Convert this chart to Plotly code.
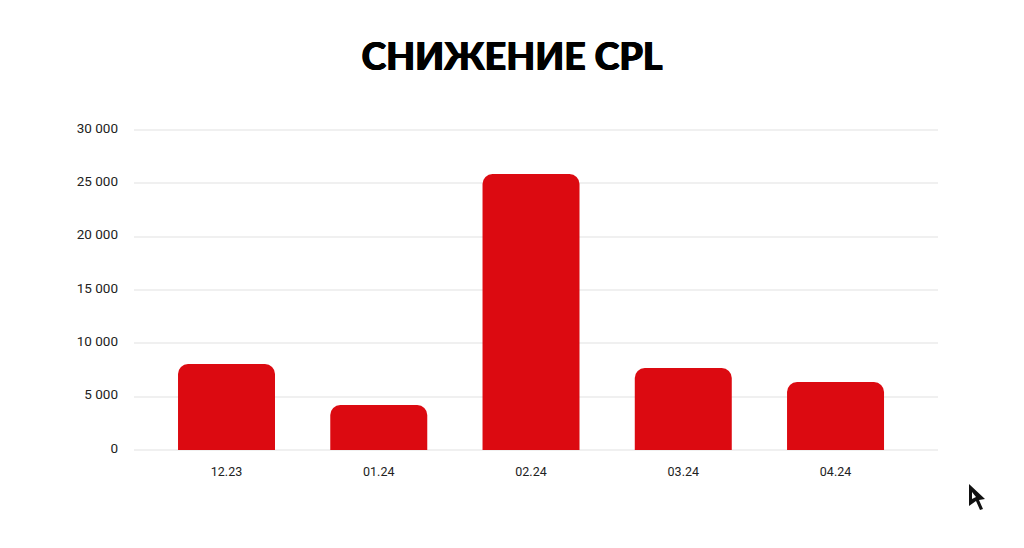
import plotly.graph_objects as go

categories = ["12.23", "01.24", "02.24", "03.24", "04.24"]
values = [8060, 4220, 25875, 7690, 6375]
tick_values = [0, 5000, 10000, 15000, 20000, 25000, 30000]
title_text = "СНИЖЕНИЕ CPL"

PAGE_OFFSET = 8
W, H = 1024 - 2 * PAGE_OFFSET, 548 - 2 * PAGE_OFFSET
L, T = 134 - PAGE_OFFSET, 127 - PAGE_OFFSET
PW, PH = 804, 326
R, B = W - L - PW, H - T - PH


def px(x):
    return (x - PAGE_OFFSET - L) / PW


def py(y):
    return (H - B - (y - PAGE_OFFSET)) / PH


def path_of(pts):
    return "M " + " L ".join(f"{px(x):.5f} {py(y):.5f}" for x, y in pts) + " Z"


cursor_outer = [(969, 484), (985, 499), (979, 500), (983, 509), (980, 510), (976, 501), (969, 506)]
cursor_inner = [(972, 492), (976, 497), (972, 499)]

fig = go.Figure(
    go.Bar(
        x=list(range(len(categories))),
        y=values,
        width=0.637,
        marker=dict(color="#DC0A11", line=dict(width=0), cornerradius=10),
        hoverinfo="skip",
    )
)
fig.update_layout(
    width=W,
    height=H,
    margin=dict(l=L, r=R, t=T, b=B, pad=0),
    paper_bgcolor="white",
    plot_bgcolor="white",
    separators=". ",
    showlegend=False,
    font=dict(family="Roboto, sans-serif", size=13.5, color="#222222"),
    title=dict(
        text=title_text,
        x=0.5,
        xanchor="center",
        xref="container",
        y=1 - (57 - PAGE_OFFSET) / H,
        yanchor="middle",
        font=dict(
            family="Lato, sans-serif",
            size=37.5,
            color="#000000",
            weight=900,
            shadow="0.6px 0 0 #000, -0.6px 0 0 #000",
        ),
    ),
    xaxis=dict(
        range=[-0.6076, 4.673],
        tickmode="array",
        tickvals=list(range(len(categories))),
        ticktext=categories,
        showgrid=False,
        zeroline=False,
        showline=False,
        ticks="",
        ticklabelstandoff=9,
        tickfont=dict(size=12.5, color="#222222"),
    ),
    yaxis=dict(
        range=[-281.25, 30281.25],
        tickmode="array",
        tickvals=tick_values,
        tickformat=",d",
        showgrid=True,
        gridcolor="#F0F0F0",
        gridwidth=2,
        zeroline=False,
        showline=False,
        ticks="",
        ticklabelstandoff=15,
        ticklabelshift=-2,
        tickfont=dict(size=13.5, color="#222222"),
    ),
    shapes=[
        dict(type="path", xref="paper", yref="paper", path=path_of(cursor_outer),
             fillcolor="#111111", line=dict(width=0)),
        dict(type="path", xref="paper", yref="paper", path=path_of(cursor_inner),
             fillcolor="#FFFFFF", line=dict(width=0)),
    ],
)
fig.write_html("out.html", config=dict(displayModeBar=False))
